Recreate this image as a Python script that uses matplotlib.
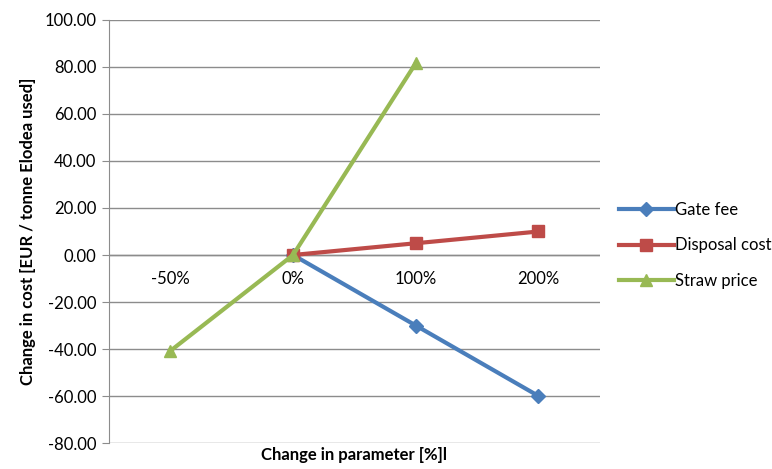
"""Sensitivity of cost per tonne of Elodea to changes in input parameters."""

import matplotlib

matplotlib.use("Agg")
import matplotlib.pyplot as plt
import numpy as np

plt.rcParams["font.family"] = ["Lato", "DejaVu Sans"]

categories = ["-50%", "0%", "100%", "200%"]
gate_fee = [np.nan, 0.0, -30.0, -60.0]
disposal_cost = [np.nan, 0.0, 5.0, 10.0]
straw_price = [-40.8, 0.0, 81.6, np.nan]

series = [
    ("Gate fee", gate_fee, "#4A7EBB", "D", 7),
    ("Disposal cost", disposal_cost, "#BE4B48", "s", 8),
    ("Straw price", straw_price, "#98B954", "^", 9),
]

fig = plt.figure(figsize=(7.72, 4.69), dpi=100)
ax = fig.add_axes([0.1412, 0.0554, 0.6358, 0.902])

x = np.arange(len(categories))
for name, vals, color, marker, ms in series:
    ax.plot(x, vals, color=color, linewidth=3, marker=marker, markersize=ms,
            markeredgecolor=color, label=name, zorder=3)

ax.set_xlim(-0.5, len(categories) - 0.5)
ax.set_ylim(-80, 100)
ax.set_yticks(np.arange(-80, 101, 20))
ax.set_yticklabels([f"{v:.2f}" for v in np.arange(-80, 101, 20)], fontsize=12)
ax.yaxis.grid(True, color="#8C8C8C", linewidth=1)
ax.set_axisbelow(True)
ax.tick_params(axis="y", length=5, color="#8C8C8C", pad=4)

# horizontal axis crosses at zero, category labels sit just under it
ax.set_xticks([])
ax.axhline(0, color="#8C8C8C", linewidth=1, zorder=1)
for xi, lab in zip(x, categories):
    ax.annotate(lab, (xi, 0), xytext=(0, -17), textcoords="offset points",
                ha="center", va="center", fontsize=12)

for side in ("top", "right", "bottom"):
    ax.spines[side].set_visible(False)
ax.spines["left"].set_color("#8C8C8C")

ax.set_ylabel("Change in cost [EUR / tonne Elodea used]", fontsize=12,
              fontweight="bold", labelpad=6)
ax.set_xlabel("Change in parameter [%]l", fontsize=12, fontweight="bold",
              labelpad=3)

ax.legend(loc="center left", bbox_to_anchor=(1.025, 0.467), frameon=False,
          fontsize=12, handlelength=3.3, labelspacing=1.15, borderaxespad=0,
          handletextpad=0.1)

fig.savefig("out.png", dpi=100)
